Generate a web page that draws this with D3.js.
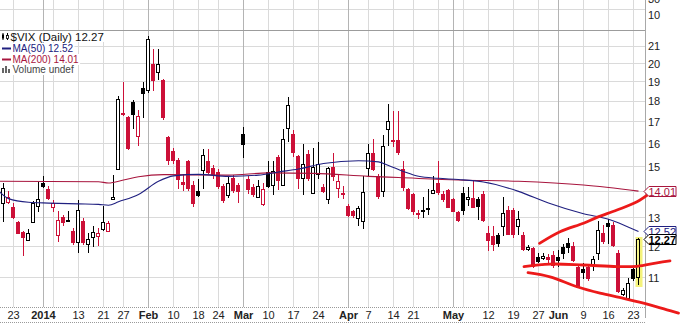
<!DOCTYPE html>
<html>
<head>
<meta charset="utf-8">
<script src="https://cdn.jsdelivr.net/npm/d3@7/dist/d3.min.js"></script>
<style>
  body { margin: 0; background: #fff; }
  svg { display: block; font-family: "Liberation Sans", Arial, sans-serif; }
</style>
</head>
<body>
<div id="chart"></div>
<script>
// $VIX daily candles, Dec 18 2013 - Jun 24 2014

var dates = ("2013-12-18 2013-12-19 2013-12-20 2013-12-23 2013-12-24 2013-12-26 2013-12-27 2013-12-30 2013-12-31 " +
  "2014-01-02 2014-01-03 2014-01-06 2014-01-07 2014-01-08 2014-01-09 2014-01-10 2014-01-13 2014-01-14 2014-01-15 2014-01-16 2014-01-17 2014-01-21 2014-01-22 2014-01-23 2014-01-24 2014-01-27 2014-01-28 2014-01-29 2014-01-30 2014-01-31 " +
  "2014-02-03 2014-02-04 2014-02-05 2014-02-06 2014-02-07 2014-02-10 2014-02-11 2014-02-12 2014-02-13 2014-02-14 2014-02-18 2014-02-19 2014-02-20 2014-02-21 2014-02-24 2014-02-25 2014-02-26 2014-02-27 2014-02-28 " +
  "2014-03-03 2014-03-04 2014-03-05 2014-03-06 2014-03-07 2014-03-10 2014-03-11 2014-03-12 2014-03-13 2014-03-14 2014-03-17 2014-03-18 2014-03-19 2014-03-20 2014-03-21 2014-03-24 2014-03-25 2014-03-26 2014-03-27 2014-03-28 2014-03-31 " +
  "2014-04-01 2014-04-02 2014-04-03 2014-04-04 2014-04-07 2014-04-08 2014-04-09 2014-04-10 2014-04-11 2014-04-14 2014-04-15 2014-04-16 2014-04-17 2014-04-21 2014-04-22 2014-04-23 2014-04-24 2014-04-25 2014-04-28 2014-04-29 2014-04-30 " +
  "2014-05-01 2014-05-02 2014-05-05 2014-05-06 2014-05-07 2014-05-08 2014-05-09 2014-05-12 2014-05-13 2014-05-14 2014-05-15 2014-05-16 2014-05-19 2014-05-20 2014-05-21 2014-05-22 2014-05-23 2014-05-27 2014-05-28 2014-05-29 2014-05-30 " +
  "2014-06-02 2014-06-03 2014-06-04 2014-06-05 2014-06-06 2014-06-09 2014-06-10 2014-06-11 2014-06-12 2014-06-13 2014-06-16 2014-06-17 2014-06-18 2014-06-19 2014-06-20 2014-06-23 2014-06-24").split(" ");

var open = [
  16.0, 13.57, 13.6, 13.4, 12.85, 12.5, 12.22, 12.85, 13.43,
  14.35, 14.08, 13.42, 12.4, 13.05, 12.92, 12.55, 12.15, 12.9, 12.1, 12.33, 12.36, 12.6, 12.55, 13.72, 14.9, 17.35, 17.25, 17.97, 16.33, 18.7,
  18.55, 20.0, 19.55, 19.1, 16.3, 15.65, 15.28, 14.38, 15.25, 14.25, 14.0, 14.85, 15.25, 14.95, 14.77, 14.2, 13.85, 14.55, 14.25,
  16.45, 14.5, 14.18, 13.8, 13.5, 14.77, 14.25, 15.4, 14.25, 16.7, 16.45, 15.45, 14.55, 15.55, 13.95, 14.7, 14.18, 13.7, 15.0, 14.15, 13.93,
  13.45, 13.25, 13.0, 12.9, 14.95, 15.6, 14.6, 14.0, 16.65, 16.15, 16.15, 14.9, 14.1, 13.9, 13.15, 13.3, 13.35, 13.95, 14.33, 13.9, 14.05,
  13.7, 13.2, 13.95, 13.7, 13.73, 13.72, 13.9, 12.45, 12.35, 12.4, 12.7, 13.3, 13.28, 12.7, 12.4, 11.93, 11.97, 11.67, 11.62, 11.66, 11.72,
  11.67, 12.0, 12.12, 12.03, 11.35, 11.27, 11.35, 11.43, 11.8, 12.45, 12.8, 12.75, 11.8, 10.52, 10.4, 11.27, 11.03
];
var high = [
  16.3, 14.33, 14.0, 13.55, 12.9, 12.55, 12.6, 13.62, 14.38,
  14.6, 14.2, 13.65, 13.25, 13.1, 13.25, 12.65, 13.65, 13.0, 12.45, 12.7, 12.65, 13.43, 12.9, 14.65, 18.25, 19.0, 17.3, 18.05, 17.55, 19.0,
  21.6, 20.8, 20.8, 19.15, 16.35, 15.8, 15.35, 14.7, 15.3, 14.4, 14.5, 15.77, 15.75, 15.05, 14.9, 14.3, 14.6, 14.65, 14.35,
  16.75, 14.6, 14.3, 14.45, 14.33, 15.25, 15.25, 15.5, 16.65, 18.2, 16.6, 15.5, 16.0, 15.7, 15.8, 16.05, 14.3, 15.0, 15.6, 14.65, 14.2,
  13.5, 13.3, 13.45, 14.6, 16.0, 16.2, 14.7, 16.4, 17.85, 17.5, 17.5, 15.25, 14.15, 13.95, 13.3, 13.8, 14.08, 14.6, 15.25, 14.0, 14.1,
  13.75, 13.25, 14.18, 14.18, 14.45, 13.8, 14.0, 12.7, 12.7, 12.45, 13.8, 13.45, 13.35, 13.25, 12.5, 12.05, 12.0, 11.8, 11.8, 11.75, 11.85,
  11.9, 12.1, 12.3, 12.15, 11.4, 11.45, 11.4, 11.7, 12.9, 12.75, 12.95, 12.85, 11.9, 10.7, 11.0, 11.3, 12.3
];
var low = [
  13.75, 12.86, 13.5, 12.95, 12.45, 11.7, 12.2, 12.8, 13.2,
  14.15, 13.65, 13.2, 12.15, 12.7, 12.85, 12.05, 11.8, 12.05, 11.8, 12.0, 12.03, 12.55, 12.5, 13.7, 14.85, 17.3, 15.7, 16.65, 15.9, 17.2,
  18.4, 18.5, 19.1, 17.1, 15.05, 15.1, 14.1, 14.0, 14.0, 13.4, 13.8, 14.1, 14.7, 14.5, 14.1, 13.55, 13.75, 13.95, 13.55,
  15.35, 13.9, 13.8, 13.75, 13.45, 14.15, 13.85, 14.05, 14.2, 16.05, 15.4, 14.1, 13.85, 14.4, 13.9, 14.5, 13.95, 13.5, 14.4, 13.75, 13.7,
  13.05, 13.0, 12.7, 12.6, 14.6, 14.8, 13.72, 13.8, 15.9, 15.85, 15.5, 14.0, 13.3, 13.1, 12.95, 13.0, 13.1, 13.9, 13.85, 13.6, 13.35,
  13.2, 12.85, 13.1, 13.45, 13.35, 12.92, 12.85, 11.85, 11.85, 12.0, 12.35, 12.4, 12.3, 12.4, 11.85, 11.85, 11.3, 11.45, 11.55, 11.45, 11.3,
  11.35, 11.6, 11.8, 11.5, 10.7, 10.95, 10.9, 11.2, 11.55, 12.1, 12.1, 12.0, 10.55, 10.45, 10.38, 10.9, 10.78
];
var close = [
  13.8, 14.15, 13.79, 13.04, 12.48, 12.33, 12.46, 13.56, 13.72,
  14.23, 13.76, 13.55, 12.92, 12.87, 12.89, 12.14, 13.28, 12.15, 12.27, 12.5, 12.45, 12.86, 12.82, 13.8, 18.14, 17.42, 15.8, 17.35, 17.29, 18.41,
  21.44, 19.11, 19.95, 17.23, 15.29, 15.26, 14.51, 14.3, 14.14, 13.57, 13.87, 15.5, 14.79, 14.68, 14.23, 13.67, 14.35, 14.04, 14.0,
  16.0, 14.1, 13.89, 14.21, 14.11, 14.2, 14.8, 14.47, 16.22, 17.82, 15.64, 14.52, 15.12, 14.52, 15.0, 15.09, 14.02, 14.93, 14.62, 14.41, 13.88,
  13.1, 13.09, 13.37, 13.96, 15.57, 14.89, 13.82, 15.89, 17.03, 16.11, 15.61, 14.18, 13.36, 13.25, 13.19, 13.27, 13.32, 14.06, 13.97, 13.71, 13.41,
  13.25, 12.91, 13.29, 13.8, 13.4, 13.43, 12.92, 12.23, 12.08, 12.12, 13.17, 12.44, 12.42, 12.96, 11.91, 12.0, 11.36, 11.52, 11.68, 11.6, 11.4,
  11.55, 11.8, 11.98, 11.55, 10.73, 11.18, 10.99, 11.6, 12.56, 12.18, 12.72, 12.06, 10.61, 10.62, 10.85, 10.98, 12.27
];

// moving averages, read at a few dates
var ma50Dates = ["2013-12-18", "2013-12-20", "2013-12-27", "2014-01-03", "2014-01-13", "2014-01-17", "2014-01-22", "2014-01-24",
  "2014-01-30", "2014-02-05", "2014-02-10", "2014-02-18", "2014-02-26", "2014-03-06", "2014-03-12", "2014-03-18", "2014-03-25",
  "2014-04-03", "2014-04-09", "2014-04-11", "2014-04-16", "2014-04-22", "2014-04-28", "2014-05-02", "2014-05-09", "2014-05-20",
  "2014-05-29", "2014-06-09", "2014-06-16", "2014-06-19", "2014-06-24"];
var ma50Values = [14.02, 13.72, 13.58, 13.55, 13.52, 13.5, 13.47, 13.6,
  13.88, 14.4, 14.62, 14.68, 14.6, 14.65, 14.78, 14.9, 15.13,
  15.25, 15.2, 15.05, 14.8, 14.6, 14.52, 14.47, 14.37, 14.0,
  13.55, 13.15, 12.95, 12.75, 12.52];
var ma200Dates = ["2013-12-18", "2014-01-17", "2014-01-22", "2014-01-27", "2014-01-30", "2014-02-06", "2014-02-26", "2014-03-10",
  "2014-03-21", "2014-04-07", "2014-04-15", "2014-05-02", "2014-05-20", "2014-06-09", "2014-06-24"];
var ma200Values = [14.4, 14.38, 14.33, 14.45, 14.58, 14.67, 14.65, 14.74,
  14.72, 14.6, 14.55, 14.45, 14.4, 14.25, 14.01];

// hand-drawn red trend lines: [trading-day position, value]
var upperLine = [[108.2, 12.11], [112.3, 12.51], [117, 12.81], [119.7, 13.02], [123.7, 13.29], [127.7, 13.6], [130.3, 13.93]];
var middleLine = [[105.1, 11.35], [110.3, 11.43], [117, 11.40], [123.7, 11.35], [127.7, 11.36], [131.7, 11.47], [134.3, 11.53]];
var lowerLine = [[105.9, 11.16], [110.3, 11.03], [115.7, 10.73], [120.3, 10.54], [125, 10.39], [129, 10.25], [133.7, 10.06], [136, 9.97]];

var yTicks = [11, 12, 13, 14, 15, 16, 17, 18, 19, 20, 21];
var yTickLabels = ["11", "12", "13", "", "15", "16", "17", "18", "19", "20", "21"];

var gridDates = ["2013-12-23", "2014-01-02", "2014-01-06", "2014-01-13", "2014-01-21", "2014-01-27", "2014-02-03", "2014-02-10",
  "2014-02-18", "2014-02-24", "2014-03-03", "2014-03-10", "2014-03-17", "2014-03-24", "2014-04-01", "2014-04-07", "2014-04-14",
  "2014-04-21", "2014-04-28", "2014-05-01", "2014-05-05", "2014-05-12", "2014-05-19", "2014-05-27", "2014-06-02", "2014-06-09",
  "2014-06-16", "2014-06-23"];
var monthDates = ["2014-01-02", "2014-02-03", "2014-03-03", "2014-04-01", "2014-05-01", "2014-06-02"];

var tickDates = ["2013-12-23", "2014-01-02", "2014-01-13", "2014-01-21", "2014-01-27", "2014-02-03", "2014-02-10", "2014-02-18",
  "2014-02-24", "2014-03-03", "2014-03-10", "2014-03-17", "2014-03-24", "2014-04-01", "2014-04-07", "2014-04-14", "2014-04-21",
  "2014-05-01", "2014-05-12", "2014-05-19", "2014-05-27", "2014-06-02", "2014-06-09", "2014-06-16", "2014-06-23"];
var tickLabels = ["23", "2014", "13", "21", "27", "Feb", "10", "18", "24", "Mar", "10", "17", "24", "Apr", "7", "14", "21",
  "May", "12", "19", "27", "Jun", "9", "16", "23"];

// colours
var red = "#cc1038";
var maRed = "#a8163e";
var navy = "#202080";
var penRed = "#ec1a1a";

var width = 684, height = 324;
var plot = {right: 645, top: 30, bottom: 307};

var svg = d3.select("#chart").append("svg")
    .attr("width", width)
    .attr("height", height);

var x = d3.scaleLinear().domain([3, 127]).range([13.5, 633.5]);
var y = d3.scaleLog().domain([10.14, 21.96]).range([plot.bottom, plot.top]);
var pos = function (d) { return dates.indexOf(d); };
var crisp = function (v) { return Math.floor(v) + 0.5; };

// Grid
var grid = svg.append("g");
grid.selectAll(".hgrid").data(yTicks).enter().append("line")
    .attr("x1", 0).attr("x2", plot.right)
    .attr("y1", function (d) { return crisp(y(d)); })
    .attr("y2", function (d) { return crisp(y(d)); })
    .attr("stroke", "#dadada");

grid.append("line").attr("x1", 0).attr("x2", plot.right).attr("y1", 9.5).attr("y2", 9.5).attr("stroke", "#dadada");

grid.selectAll(".vgrid").data(gridDates).enter().append("line")
    .attr("x1", function (d) { return crisp(x(pos(d))); })
    .attr("x2", function (d) { return crisp(x(pos(d))); })
    .attr("y1", 0).attr("y2", plot.bottom)
    .attr("stroke", function (d) { return monthDates.indexOf(d) >= 0 ? "#b4b4b4" : "#dadada"; });

// panel separator, right axis, bottom band
svg.append("line").attr("x1", 0).attr("x2", plot.right).attr("y1", 30.5).attr("y2", 30.5).attr("stroke", "#9c9c9c");
svg.append("line").attr("x1", plot.right + 0.5).attr("x2", plot.right + 0.5).attr("y1", 0).attr("y2", 318).attr("stroke", "#a8a8a8");
[307.5, 322.5].forEach(function (yy) {
    svg.append("line").attr("x1", 0).attr("x2", plot.right).attr("y1", yy).attr("y2", yy)
        .attr("stroke", "#9a9a9a").attr("stroke-dasharray", "1,1");
});

// Candles
var candles = svg.append("g");
var idx = d3.range(dates.length);
var last = dates.length - 1;
var colorOf = function (i) { return (i === 0 || close[i] < close[i - 1]) ? red : "#000"; };

// yellow highlight behind the latest bar
candles.append("rect")
    .attr("x", crisp(x(last)) - 3).attr("width", 7)
    .attr("y", Math.round(y(high[last])) - 1)
    .attr("height", Math.round(y(low[last])) - Math.round(y(high[last])) + 3)
    .attr("fill", "#f4f27a");

candles.selectAll(".wick").data(idx).enter().append("line")
    .attr("x1", function (i) { return crisp(x(i)); })
    .attr("x2", function (i) { return crisp(x(i)); })
    .attr("y1", function (i) { return Math.round(y(high[i])); })
    .attr("y2", function (i) { return Math.round(y(low[i])); })
    .attr("stroke", function (i) { return i === last ? "#000" : colorOf(i); });

candles.selectAll(".body").data(idx).enter().append("rect")
    .attr("x", function (i) { return crisp(x(i)) - 2; })
    .attr("width", 3)
    .attr("y", function (i) { return Math.round(y(Math.max(open[i], close[i]))) + 0.5; })
    .attr("height", function (i) {
        return Math.max(1, Math.round(y(Math.min(open[i], close[i]))) - Math.round(y(Math.max(open[i], close[i]))));
    })
    .attr("stroke", function (i) { return i === last ? "#000" : colorOf(i); })
    .attr("fill", function (i) {
        if (i === last) return "#f8f68a";
        return close[i] < open[i] ? colorOf(i) : "#fff";
    });

// Moving averages
var maLine = d3.line()
    .x(function (d) { return x(pos(d[0])); })
    .y(function (d) { return y(d[1]); })
    .curve(d3.curveMonotoneX);

svg.append("path")
    .datum(d3.zip(ma200Dates, ma200Values))
    .attr("d", maLine).attr("fill", "none").attr("stroke", maRed).attr("stroke-width", 1.1);
svg.append("path")
    .datum(d3.zip(ma50Dates, ma50Values))
    .attr("d", maLine).attr("fill", "none").attr("stroke", navy).attr("stroke-width", 1.1);

// Hand-drawn trend lines
var penLine = d3.line()
    .x(function (d) { return x(d[0]); })
    .y(function (d) { return y(d[1]); })
    .curve(d3.curveCatmullRom);
[upperLine, middleLine, lowerLine].forEach(function (pts) {
    svg.append("path").datum(pts).attr("d", penLine)
        .attr("fill", "none").attr("stroke", penRed).attr("stroke-width", 2.8)
        .attr("stroke-linecap", "round").attr("stroke-linejoin", "round");
});

// Right axis labels
var rightAxis = svg.append("g").attr("font-size", "11px").attr("fill", "#222");
rightAxis.selectAll("text").data(yTicks).enter().append("text")
    .attr("x", plot.right + 3)
    .attr("y", function (d) { return Math.round(y(d)) + 4; })
    .text(function (d, i) { return yTickLabels[i]; });
rightAxis.append("text").attr("x", plot.right + 3).attr("y", 19).text("10");
rightAxis.append("text").attr("x", plot.right + 3).attr("y", 3).text("30");

// Bottom date labels
svg.append("g").selectAll("text").data(tickDates).enter().append("text")
    .attr("x", function (d) { return x(pos(d)); })
    .attr("y", 318.5)
    .attr("text-anchor", "middle")
    .attr("font-size", "11px")
    .attr("fill", "#222")
    .attr("font-weight", function (d, i) { return isNaN(+tickLabels[i]) || tickLabels[i] === "2014" ? "bold" : "normal"; })
    .text(function (d, i) { return tickLabels[i]; });

// Price tags on the right axis
function priceTag(value, color, bold) {
    var cy = Math.round(y(value)) + 0.5;
    var g = svg.append("g");
    var x0 = plot.right - 1, w = 32;
    g.append("path")
        .attr("d", "M" + x0 + "," + cy + " L" + (x0 + 5) + "," + (cy - 5) + " H" + (x0 + w) + " V" + (cy + 5) + " H" + (x0 + 5) + " Z")
        .attr("fill", "#fff").attr("stroke", color);
    g.append("text")
        .attr("x", x0 + 4.5).attr("y", cy + 4)
        .attr("font-size", "11px")
        .attr("font-weight", bold ? "bold" : "normal")
        .attr("fill", bold ? "#000" : color)
        .text(d3.format(".2f")(value));
}
priceTag(ma200Values[ma200Values.length - 1], maRed, false);
priceTag(ma50Values[ma50Values.length - 1], navy, false);
priceTag(close[last], "#000", true);

// Legend
var legend = svg.append("g");
var legendRows = [
    {text: "$VIX (Daily) " + close[last], size: 11.5, color: "#111", cy: 36.5},
    {text: "MA(50) " + ma50Values[ma50Values.length - 1], size: 10, color: navy, cy: 48.5},
    {text: "MA(200) " + ma200Values[ma200Values.length - 1], size: 10, color: maRed, cy: 59.5},
    {text: "Volume undef", size: 10, color: "#444", cy: 69.5}
];
legendRows.forEach(function (r, i) {
    var tx = i === 0 ? 10.5 : 12.5;
    var bg = legend.append("rect").attr("fill", "#fff");
    var t = legend.append("text")
        .attr("x", tx).attr("y", r.cy + r.size * 0.36)
        .attr("font-size", r.size + "px").attr("fill", r.color)
        .text(r.text);
    var bb = t.node().getBBox();
    bg.attr("x", 0).attr("y", r.cy - 5.5).attr("width", bb.x + bb.width + 1).attr("height", 11);
});
// legend icons
legend.append("line").attr("x1", 3).attr("x2", 3).attr("y1", 33).attr("y2", 40).attr("stroke", "#000");
legend.append("rect").attr("x", 2).attr("y", 34.5).attr("width", 2).attr("height", 4).attr("fill", "#000");
legend.append("line").attr("x1", 7.5).attr("x2", 7.5).attr("y1", 33).attr("y2", 40).attr("stroke", "#000");
legend.append("rect").attr("x", 6.5).attr("y", 35.5).attr("width", 2).attr("height", 3).attr("fill", "#fff").attr("stroke", "#000").attr("stroke-width", 0.8);
legend.append("line").attr("x1", 2).attr("x2", 11).attr("y1", 48.5).attr("y2", 48.5).attr("stroke", navy).attr("stroke-width", 2);
legend.append("line").attr("x1", 2).attr("x2", 11).attr("y1", 59.5).attr("y2", 59.5).attr("stroke", maRed).attr("stroke-width", 2);
[[2, 4], [5, 6], [8, 3]].forEach(function (b) {
    legend.append("rect").attr("x", b[0]).attr("y", 73 - b[1] - 1).attr("width", 2).attr("height", b[1] + 1).attr("fill", "#666");
});
</script>
</body>
</html>
